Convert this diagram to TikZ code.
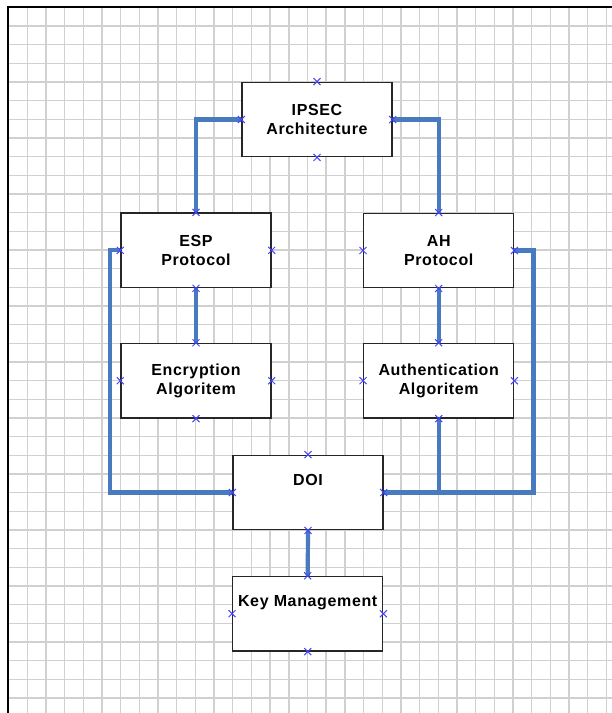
\documentclass[tikz,border=0pt]{standalone}
\usepackage{fontspec}
\setmainfont{Liberation Sans}
\newfontfamily\boxfont[LetterSpace=4]{Liberation Sans}
\usetikzlibrary{calc}

\definecolor{linkblue}{RGB}{72,122,192}
\definecolor{markblue}{RGB}{70,70,250}
\definecolor{gridgray}{RGB}{208,208,208}

\begin{document}
\begin{tikzpicture}[x=1pt, y=-1pt,
  box/.style={draw=black!85, line width=1.4pt, fill=white, minimum width=150pt,
    minimum height=74.5pt, inner sep=0pt, align=center,
    font=\boxfont\bfseries\fontsize{16}{19}\selectfont},
  conn/.style={linkblue, line width=4.2pt},
  gridline/.style={gridgray, line width=1.4pt},
  cpmark/.style={markblue, line width=1pt}]

\useasboundingbox (0,0) rectangle (612,713);
\fill[white] (0,0) rectangle (612,713);

% grid
\begin{scope}
\clip (8,7) rectangle (612,713);
\foreach \i in {0,...,31} {
 \draw[gridline] (27.3+18.68*\i,7) -- ++(0,706);
};
\foreach \j in {0,...,36} {
 \draw[gridline] (8,26+18.67*\j) -- ++(604,0);
};
\end{scope}
\draw[black, line width=1.6pt] (8,713) -- (8,7) -- (612,7);

% boxes
\node[box] (ipsec) at (317,119.5) {IPSEC\\Architecture};
\node[box] (esp) at (196,250.3) {ESP\\Protocol};
\node[box] (ah) at (438.7,250.5) {AH\\Protocol};
\node[box] (enc) at (196,380.7) {Encryption\\Algoritem};
\node[box] (auth) at (438.7,380.7) {Authentication\\Algoritem};
\node[box] (doi) at (308,492.5) {DOI\\\strut};
\node[box] (key) at (307.7,613.7) {Key Management\\\strut};

% links
\draw[conn] (ipsec.west) -| (esp.north);
\draw[conn] (ipsec.east) -| (ah.north);
\draw[conn] (esp.south) -- (enc.north);
\draw[conn] (ah.south) -- (auth.north);
\draw[conn] (esp.west) -- ++(-10,0) |- (doi.west);
\draw[conn] (ah.east) -- ++(19,0) |- (doi.east);
\draw[conn] (auth.south) |- (doi.east);
\draw[conn] (doi.south) -- (key.north);

% connection points
\foreach \n in {ipsec, esp, ah, enc, auth, doi, key} {
 \foreach \a in {north, south, east, west} {
  \draw[cpmark] ($(\n.\a)+(-3.5,-3.5)$) -- ++(7,7) ($(\n.\a)+(-3.5,3.5)$) -- ++(7,-7);
 };
};
\end{tikzpicture}
\end{document}
